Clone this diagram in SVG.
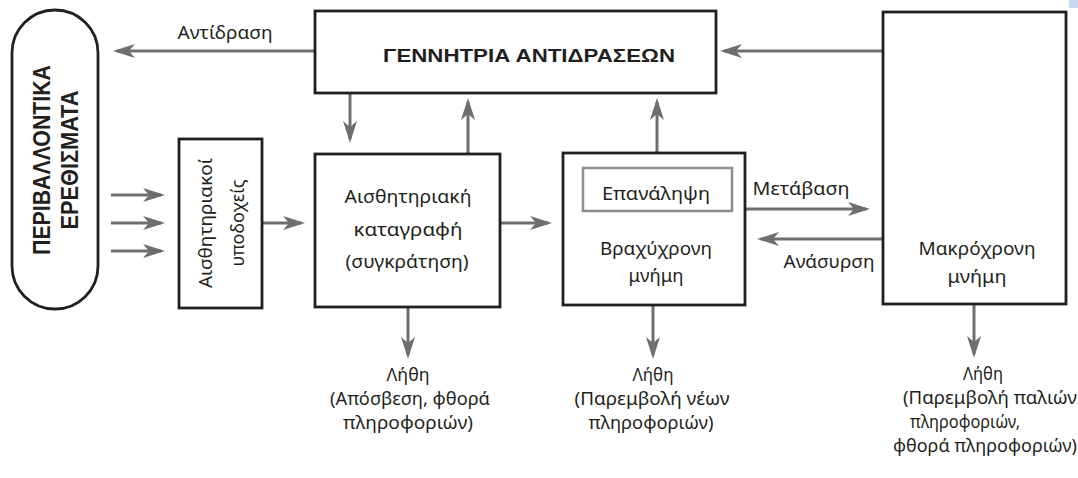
<svg xmlns="http://www.w3.org/2000/svg" width="1078" height="478" viewBox="0 0 1078 478">
<style>
.box{fill:#fff;stroke:#231f20;stroke-width:2.8}
.inner{fill:none;stroke:#8c8c8c;stroke-width:2.5}
.c{fill:none;stroke:#6d6e70;stroke-width:3;marker-end:url(#ah)}
.h{font-family:"Noto Sans","Open Sans",sans-serif;font-size:18px;fill:#231f20;text-anchor:middle}
.b{font-family:"Liberation Sans","DejaVu Sans",sans-serif;font-weight:bold;fill:#231f20;text-anchor:middle}
</style>
<defs>
<marker id="ah" markerUnits="userSpaceOnUse" markerWidth="24" markerHeight="16" refX="18" refY="7" orient="auto" viewBox="0 0 24 16">
<path d="M0,0 L22,7 L0,14 L6,7 z" fill="#6d6e70"/>
</marker>
</defs>
<rect x="1069" y="0" width="9" height="8" fill="#c6d9f1"/>

<g id="connectors">
<line class="c" x1="315" y1="51" x2="117" y2="51"/>
<line class="c" x1="883" y1="51" x2="724" y2="51"/>
<line class="c" x1="350" y1="93" x2="350" y2="139"/>
<line class="c" x1="468" y1="154" x2="468" y2="102"/>
<line class="c" x1="657" y1="153" x2="657" y2="102"/>
<line class="c" x1="111" y1="195" x2="161" y2="195"/>
<line class="c" x1="111" y1="223" x2="161" y2="223"/>
<line class="c" x1="111" y1="251" x2="161" y2="251"/>
<line class="c" x1="262" y1="223" x2="301" y2="223"/>
<line class="c" x1="500" y1="223" x2="548" y2="223"/>
<line class="c" x1="745" y1="209" x2="866" y2="209"/>
<line class="c" x1="883" y1="239" x2="761" y2="239"/>
<line class="c" x1="408" y1="307" x2="408" y2="355"/>
<line class="c" x1="653" y1="305" x2="653" y2="355"/>
<line class="c" x1="974" y1="304" x2="974" y2="354"/>
</g>

<g id="environment">
<rect class="box" x="12" y="10" width="86" height="299" rx="43" ry="43"/>
<text class="b" font-size="23" transform="translate(50,160) rotate(-90)" textLength="190" lengthAdjust="spacingAndGlyphs">ΠΕΡΙΒΑΛΛΟΝΤΙΚΑ</text>
<text class="b" font-size="23" transform="translate(78,160) rotate(-90)" textLength="139" lengthAdjust="spacingAndGlyphs">ΕΡΕΘΙΣΜΑΤΑ</text>
</g>

<g id="receptors">
<rect class="box" x="179" y="139" width="83" height="169"/>
<text class="h" transform="translate(212,223) rotate(-90)" textLength="130" lengthAdjust="spacingAndGlyphs">Αισθητηριακοί</text>
<text class="h" transform="translate(244,223) rotate(-90)" textLength="87" lengthAdjust="spacingAndGlyphs">υποδοχείς</text>
</g>

<g id="response-generator">
<rect class="box" x="315" y="11" width="401" height="82"/>
<text class="b" font-size="19" x="529" y="62" textLength="292" lengthAdjust="spacingAndGlyphs">ΓΕΝΝΗΤΡΙΑ ΑΝΤΙΔΡΑΣΕΩΝ</text>
</g>

<g id="sensory-register">
<rect class="box" x="315" y="154" width="185" height="153"/>
<text class="h" x="408" y="203" textLength="127" lengthAdjust="spacingAndGlyphs">Αισθητηριακή</text>
<text class="h" x="408" y="236" textLength="109" lengthAdjust="spacingAndGlyphs">καταγραφή</text>
<text class="h" x="407" y="268" textLength="123" lengthAdjust="spacingAndGlyphs">(συγκράτηση)</text>
</g>

<g id="short-term-memory">
<rect class="box" x="563" y="153" width="182" height="152"/>
<rect class="inner" x="583" y="168" width="149" height="43"/>
<text class="h" x="656" y="200" textLength="108" lengthAdjust="spacingAndGlyphs">Επανάληψη</text>
<text class="h" x="656" y="255" textLength="112" lengthAdjust="spacingAndGlyphs">Βραχύχρονη</text>
<text class="h" x="656" y="282" textLength="55" lengthAdjust="spacingAndGlyphs">μνήμη</text>
</g>

<g id="long-term-memory">
<rect class="box" x="883" y="12" width="183" height="292"/>
<text class="h" x="977" y="255" textLength="117" lengthAdjust="spacingAndGlyphs">Μακρόχρονη</text>
<text class="h" x="977" y="283" textLength="59" lengthAdjust="spacingAndGlyphs">μνήμη</text>
</g>

<g id="labels">
<text class="h" x="225" y="39" textLength="95" lengthAdjust="spacingAndGlyphs">Αντίδραση</text>
<text class="h" x="801" y="195" textLength="97" lengthAdjust="spacingAndGlyphs">Μετάβαση</text>
<text class="h" x="829" y="268" textLength="91" lengthAdjust="spacingAndGlyphs">Ανάσυρση</text>
</g>

<g id="forget-sensory">
<text class="h" x="408" y="381" textLength="43" lengthAdjust="spacingAndGlyphs">Λήθη</text>
<text class="h" x="410" y="405" textLength="160" lengthAdjust="spacingAndGlyphs">(Απόσβεση, φθορά</text>
<text class="h" x="408" y="429" textLength="130" lengthAdjust="spacingAndGlyphs">πληροφοριών)</text>
</g>
<g id="forget-short">
<text class="h" x="653" y="381" textLength="41" lengthAdjust="spacingAndGlyphs">Λήθη</text>
<text class="h" x="652" y="405" textLength="155" lengthAdjust="spacingAndGlyphs">(Παρεμβολή νέων</text>
<text class="h" x="651" y="429" textLength="125" lengthAdjust="spacingAndGlyphs">πληροφοριών)</text>
</g>
<g id="forget-long">
<text class="h" x="983" y="380" textLength="40" lengthAdjust="spacingAndGlyphs">Λήθη</text>
<text class="h" x="990" y="404" textLength="174" lengthAdjust="spacingAndGlyphs">(Παρεμβολή παλιών</text>
<text class="h" x="965" y="428" textLength="110" lengthAdjust="spacingAndGlyphs">πληροφοριών,</text>
<text class="h" x="985" y="452" textLength="184" lengthAdjust="spacingAndGlyphs">φθορά πληροφοριών)</text>
</g>
</svg>
